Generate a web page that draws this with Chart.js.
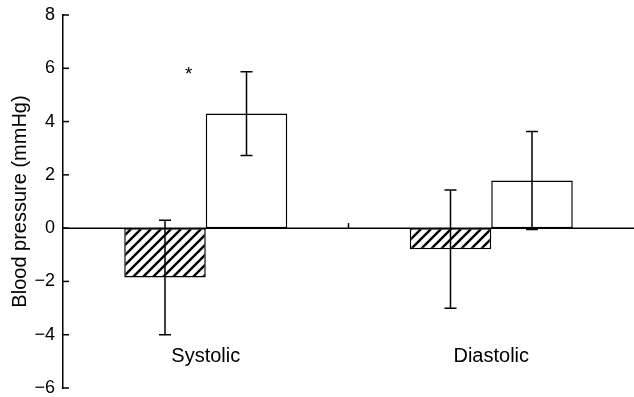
<!DOCTYPE html>
<html>
<head>
<meta charset="utf-8">
<script src="https://cdn.jsdelivr.net/npm/chart.js@4"></script>
<style>
  html, body { margin: 0; padding: 0; background: #fff; }
  #wrap { width: 634px; height: 397px; }
</style>
</head>
<body>
<div id="wrap"><canvas id="chart" width="634" height="397"></canvas></div>
<script>
// dados
const categories = ['Systolic', 'Diastolic'];
const hatchedValues = [-1.85, -0.79];
const hatchedErrors = [2.15, 2.22];
const openValues = [4.3, 1.79];
const openErrors = [1.57, 1.84];
const yMin = -6, yMax = 8, yStep = 2;
const yTitle = 'Blood pressure (mmHg)';
const marker = '*';

const FONT = '"Liberation Sans", Arial, sans-serif';

// padrão de hachuras diagonais
function makeHatch() {
    const s = 10;
    const c = document.createElement('canvas');
    c.width = s; c.height = s;
    const g = c.getContext('2d');
    g.fillStyle = '#fff';
    g.fillRect(0, 0, s, s);
    g.strokeStyle = '#000';
    g.lineWidth = 2.4;
    g.beginPath();
    g.moveTo(-2, s + 2); g.lineTo(s + 2, -2);
    g.moveTo(-2 - s, s + 2); g.lineTo(2, -2);
    g.moveTo(s - 2, s + 2); g.lineTo(s + 2 + s, -2);
    g.stroke();
    return g.createPattern(c, 'repeat');
}

const overlay = {
    id: 'overlay',
    afterDatasetsDraw(chart) {
        const { ctx, chartArea, scales: { x, y } } = chart;
        const y0 = y.getPixelForValue(0);
        ctx.save();
        ctx.strokeStyle = '#000';
        ctx.lineWidth = 1.5;

        // linha do zero
        ctx.beginPath();
        ctx.moveTo(chartArea.left, y0);
        ctx.lineTo(chartArea.right, y0);
        ctx.stroke();

        // traço separador entre as categorias
        const mid = (x.getPixelForValue(0) + x.getPixelForValue(1)) / 2;
        ctx.beginPath();
        ctx.moveTo(mid, y0);
        ctx.lineTo(mid, y0 - 5);
        ctx.stroke();

        // ticks para dentro do eixo y
        y.ticks.forEach(t => {
            const py = y.getPixelForValue(t.value);
            ctx.beginPath();
            ctx.moveTo(chartArea.left, py);
            ctx.lineTo(chartArea.left + 6, py);
            ctx.stroke();
        });

        // barras de erro
        const groups = [[hatchedValues, hatchedErrors], [openValues, openErrors]];
        groups.forEach(([vals, errs], di) => {
            const meta = chart.getDatasetMeta(di);
            meta.data.forEach((bar, i) => {
                const cx = bar.x;
                const top = y.getPixelForValue(vals[i] + errs[i]);
                const bot = y.getPixelForValue(vals[i] - errs[i]);
                ctx.beginPath();
                ctx.moveTo(cx, top); ctx.lineTo(cx, bot);
                ctx.moveTo(cx - 6, top); ctx.lineTo(cx + 6, top);
                ctx.moveTo(cx - 6, bot); ctx.lineTo(cx + 6, bot);
                ctx.stroke();
            });
        });

        // rótulos das categorias
        ctx.fillStyle = '#000';
        ctx.font = '20px ' + FONT;
        ctx.textAlign = 'center';
        ctx.textBaseline = 'middle';
        categories.forEach((c, i) => {
            ctx.fillText(c, x.getPixelForValue(i), y.getPixelForValue(-4.82));
        });

        // asterisco de significância
        ctx.font = '19px ' + FONT;
        ctx.fillText(marker, x.getPixelForValue(0) - 17, y.getPixelForValue(5.75));
        ctx.restore();
    }
};

new Chart(document.getElementById('chart'), {
    type: 'bar',
    data: {
        labels: categories,
        datasets: [
            {
                data: hatchedValues,
                backgroundColor: makeHatch(),
                borderColor: '#000',
                borderWidth: 1.5,
                borderSkipped: false,
                barPercentage: 1,
                categoryPercentage: 0.571
            },
            {
                data: openValues,
                backgroundColor: '#fff',
                borderColor: '#000',
                borderWidth: 1.5,
                borderSkipped: false,
                barPercentage: 1,
                categoryPercentage: 0.571
            }
        ]
    },
    options: {
        responsive: false,
        animation: false,
        layout: { padding: { top: 15, bottom: 9, left: 0, right: 0 } },
        plugins: { legend: { display: false }, tooltip: { enabled: false } },
        scales: {
            x: { display: false },
            y: {
                min: yMin, max: yMax,
                ticks: {
                    stepSize: yStep,
                    color: '#000',
                    font: { family: FONT, size: 18 },
                    padding: 8,
                    callback: v => (v < 0 ? '\u2212' + Math.abs(v) : String(v))
                },
                grid: { display: false, drawTicks: false },
                border: { display: true, color: '#000', width: 1.5 },
                title: {
                    display: true,
                    text: yTitle,
                    color: '#000',
                    font: { family: FONT, size: 20 },
                    padding: { top: 8, bottom: 0 }
                },
                afterFit: s => {
                    s.width = 63;
                    s.paddingTop = 0;
                    s.paddingBottom = 0;
                }
            }
        }
    },
    plugins: [overlay]
});
</script>
</body>
</html>
